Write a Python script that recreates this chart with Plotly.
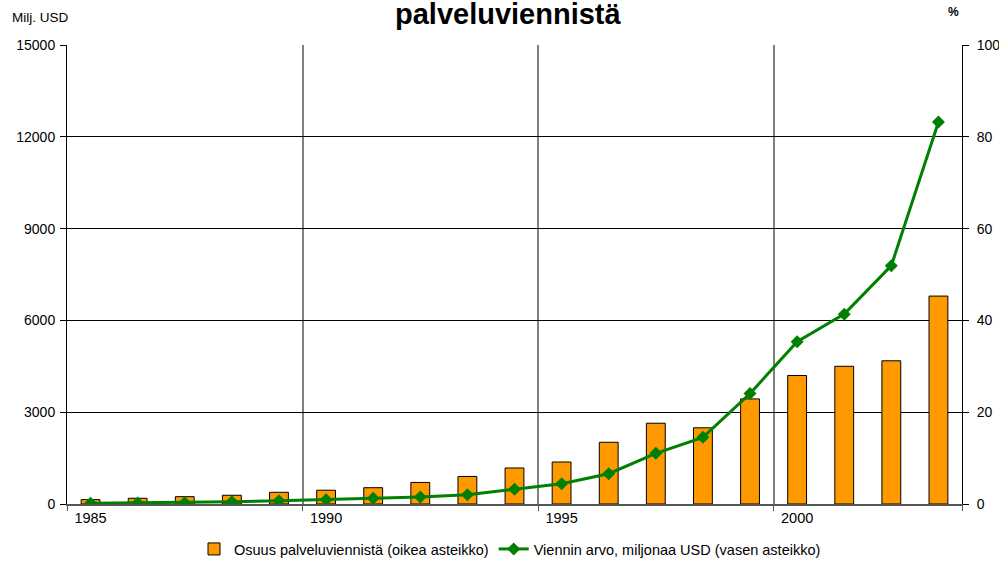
import plotly.graph_objects as go

years = list(range(1985, 2004))
share_pct = [0.95, 1.25, 1.6, 1.9, 2.55, 3.0, 3.55, 4.7, 6.0, 7.85, 9.15,
             13.45, 17.6, 16.6, 22.9, 28.0, 30.0, 31.2, 45.3]
export_musd = [23, 33, 42, 75, 108, 140, 186, 229, 305, 482, 664,
               990, 1656, 2179, 3610, 5305, 6205, 7790, 12484]

year_labels = [1985, 1990, 1995, 2000]
boundaries = [1984.5, 1989.5, 1994.5, 1999.5, 2003.5]
left_ticks = [0, 3000, 6000, 9000, 12000, 15000]
right_ticks = [0, 20, 40, 60, 80, 100]

FONT = "Arial, Liberation Sans, sans-serif"

fig = go.Figure()
fig.add_trace(go.Bar(
    x=years, y=share_pct, width=0.4,
    name="Osuus palveluviennistä (oikea asteikko)",
    marker=dict(color="#FF9900", line=dict(color="black", width=1)),
    yaxis="y",
))
fig.add_trace(go.Scatter(
    x=years, y=export_musd, mode="lines+markers",
    name="Viennin arvo, miljonaa USD (vasen asteikko)",
    line=dict(color="#008000", width=3),
    marker=dict(symbol="diamond", size=10, color="#008000"),
    yaxis="y2",
))

fig.update_layout(
    width=999, height=562,
    margin=dict(l=67, r=37, t=45, b=58),
    paper_bgcolor="white", plot_bgcolor="white",
    font=dict(family=FONT, size=13, color="black"),
    showlegend=True,
    legend=dict(orientation="h", xref="container", yref="container",
                x=510 / 999, xanchor="center", y=1 - 549 / 562, yanchor="middle",
                font=dict(size=14.5), traceorder="normal", itemwidth=30),
    xaxis=dict(
        range=[1984.5, 2003.5], tickvals=year_labels, ticks="",
        showgrid=False, zeroline=False, automargin=False,
        showline=True, linecolor="#555555", linewidth=1.5,
        tickfont=dict(size=14.5),
        minor=dict(tickvals=boundaries, ticks="outside", ticklen=5, tickcolor="#555555",
                   showgrid=True, gridcolor="#808080", gridwidth=1.5),
    ),
    yaxis=dict(
        side="right", range=[0, 100], tickvals=right_ticks, automargin=False,
        showgrid=True, gridcolor="black", gridwidth=1,
        zeroline=False, showline=True, linecolor="black", linewidth=1,
        ticks="outside", ticklen=6, tickcolor="black", ticklabelstandoff=5,
        tickfont=dict(size=14),
    ),
    yaxis2=dict(
        side="left", overlaying="y", range=[0, 15000], tickvals=left_ticks,
        tickformat="d", automargin=False,
        showgrid=False, zeroline=False, showline=True, linecolor="black", linewidth=1,
        ticks="outside", ticklen=6, tickcolor="black", ticklabelstandoff=2,
        tickfont=dict(size=14),
    ),
    bargap=0.6,
)

fig.add_annotation(text="<b>palveluviennistä</b>", xref="paper", yref="paper",
                   x=(508 - 67) / 895, y=(504 - 14) / 459, xanchor="center", yanchor="middle",
                   showarrow=False, font=dict(size=29, family=FONT))
fig.add_annotation(text="Milj. USD", xref="paper", yref="paper",
                   x=(10 - 67) / 895, y=(504 - 17) / 459, xanchor="left", yanchor="middle",
                   showarrow=False, font=dict(size=13.5, family=FONT))
fig.add_annotation(text="<b>%</b>", xref="paper", yref="paper",
                   x=(953 - 67) / 895, y=(504 - 12) / 459, xanchor="center", yanchor="middle",
                   showarrow=False, font=dict(size=12, family=FONT))

fig.write_html("out.html", config={"displayModeBar": False},
               post_script="document.body.style.margin='0';document.body.style.padding='0';")
